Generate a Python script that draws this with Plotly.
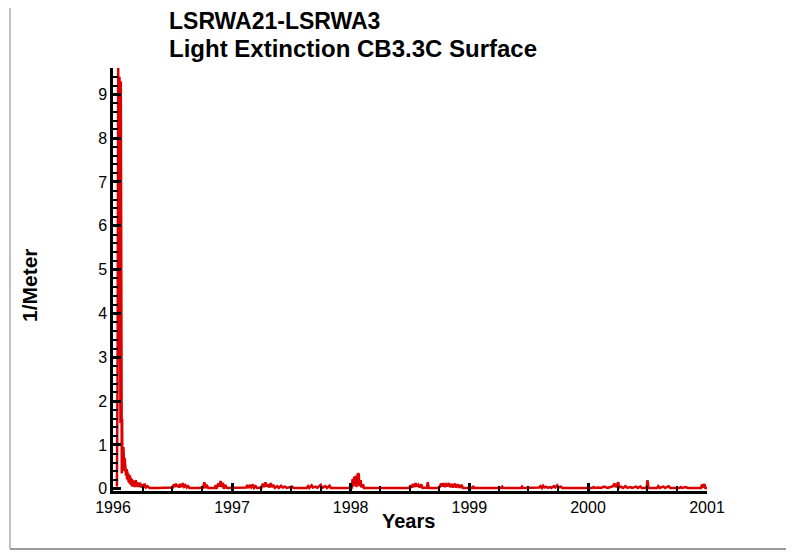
import plotly.graph_objects as go

# light extinction record, 1/Meter
dates_decay = [
    "1996-01-13", "1996-01-15", "1996-01-17", "1996-01-18", "1996-01-19", "1996-01-20",
    "1996-01-21", "1996-01-22", "1996-01-23", "1996-01-24", "1996-01-25", "1996-01-26",
    "1996-01-27", "1996-01-28", "1996-01-29", "1996-01-30", "1996-01-31", "1996-02-01",
    "1996-02-02", "1996-02-03", "1996-02-04", "1996-02-05", "1996-02-06", "1996-02-08",
    "1996-02-09", "1996-02-10", "1996-02-12", "1996-02-13", "1996-02-14", "1996-02-16",
    "1996-02-17", "1996-02-18", "1996-02-20", "1996-02-21", "1996-02-22", "1996-02-24",
    "1996-02-25", "1996-02-26", "1996-02-28", "1996-02-29", "1996-03-01", "1996-03-03",
    "1996-03-04", "1996-03-05", "1996-03-07", "1996-03-08", "1996-03-09", "1996-03-11",
    "1996-03-13", "1996-03-15", "1996-03-17", "1996-03-19", "1996-03-21", "1996-03-24",
    "1996-03-27", "1996-03-30", "1996-04-03", "1996-04-07", "1996-04-11", "1996-04-16",
    "1996-04-22",
]
vals_decay = [
    0.05, 2.5, 9.6, 4.0, 9.55, 3.0,
    9.4, 2.0, 9.35, 1.5, 9.3, 1.2,
    9.0, 0.35, 1.6, 0.5, 1.1, 0.6,
    0.95, 0.45, 0.8, 0.4, 0.7, 0.35,
    0.55, 0.3, 0.45, 0.22, 0.4, 0.2,
    0.35, 0.15, 0.32, 0.12, 0.3, 0.1,
    0.25, 0.08, 0.22, 0.05, 0.2, 0.06,
    0.18, 0.05, 0.16, 0.04, 0.12, 0.2,
    0.05, 0.15, 0.04, 0.12, 0.05, 0.14,
    0.03, 0.1, 0.03, 0.12, 0.03, 0.06,
    0.02,
]

dates_1996 = [
    "1996-05-15", "1996-06-20", "1996-07-03", "1996-07-06", "1996-07-09", "1996-07-12",
    "1996-07-15", "1996-07-19", "1996-07-22", "1996-07-26", "1996-07-30", "1996-08-03",
    "1996-08-07", "1996-08-11", "1996-08-15", "1996-08-19", "1996-08-23", "1996-09-20",
    "1996-10-04", "1996-10-08", "1996-10-11", "1996-10-16", "1996-10-20", "1996-11-08",
    "1996-11-12", "1996-11-14", "1996-11-16", "1996-11-20", "1996-11-23", "1996-11-27",
    "1996-11-30", "1996-12-04", "1996-12-07", "1996-12-11", "1996-12-16", "1996-12-31",
]
vals_1996 = [
    0.02, 0.02, 0.03, 0.1, 0.04, 0.12,
    0.05, 0.09, 0.03, 0.11, 0.04, 0.13,
    0.05, 0.08, 0.03, 0.06, 0.02, 0.02,
    0.03, 0.15, 0.02, 0.07, 0.02, 0.02,
    0.08, 0.0, 0.03, 0.12, 0.05, 0.18,
    0.04, 0.14, 0.0, 0.09, 0.02, 0.02,
]

dates_1997 = [
    "1997-01-20", "1997-02-14", "1997-02-17", "1997-02-20", "1997-02-25", "1997-03-01",
    "1997-03-06", "1997-03-10", "1997-03-15", "1997-03-19", "1997-04-02", "1997-04-06",
    "1997-04-10", "1997-04-14", "1997-04-18", "1997-04-22", "1997-04-26", "1997-04-30",
    "1997-05-04", "1997-05-08", "1997-05-13", "1997-05-20", "1997-05-25", "1997-06-01",
    "1997-06-06", "1997-06-12", "1997-06-19", "1997-07-05", "1997-07-09", "1997-08-19",
    "1997-08-23", "1997-08-27", "1997-09-03", "1997-09-07", "1997-09-15", "1997-09-20",
    "1997-10-01", "1997-10-05", "1997-10-15", "1997-10-20", "1997-10-28", "1997-11-01",
    "1997-12-31",
]
vals_1997 = [
    0.02, 0.03, 0.09, 0.02, 0.07, 0.03,
    0.1, 0.02, 0.06, 0.02, 0.03, 0.12,
    0.04, 0.15, 0.05, 0.1, 0.03, 0.13,
    0.04, 0.09, 0.02, 0.06, 0.02, 0.07,
    0.03, 0.05, 0.02, 0.05, 0.02, 0.02,
    0.06, 0.02, 0.08, 0.03, 0.05, 0.02,
    0.09, 0.02, 0.06, 0.02, 0.07, 0.02,
    0.02,
]

dates_1998 = [
    "1998-01-04", "1998-01-07", "1998-01-09", "1998-01-12", "1998-01-14", "1998-01-17",
    "1998-01-19", "1998-01-23", "1998-01-26", "1998-01-28", "1998-02-01", "1998-02-03",
    "1998-02-08", "1998-02-11", "1998-03-01", "1998-03-10", "1998-07-01", "1998-07-04",
    "1998-07-08", "1998-07-12", "1998-07-16", "1998-07-20", "1998-07-24", "1998-07-28",
    "1998-08-01", "1998-08-06", "1998-08-10", "1998-08-24", "1998-08-26", "1998-08-29",
    "1998-09-28", "1998-10-02", "1998-10-06", "1998-10-10", "1998-10-14", "1998-10-18",
    "1998-10-22", "1998-10-26", "1998-10-30", "1998-11-03", "1998-11-08", "1998-11-12",
    "1998-11-18", "1998-11-22", "1998-11-28", "1998-12-02", "1998-12-08", "1998-12-12",
    "1998-12-31",
]
vals_1998 = [
    0.02, 0.22, 0.05, 0.28, 0.08, 0.3,
    0.04, 0.35, 0.33, 0.06, 0.2, 0.03,
    0.1, 0.02, 0.03, 0.02, 0.02, 0.08,
    0.03, 0.11, 0.04, 0.13, 0.05, 0.09,
    0.03, 0.1, 0.02, 0.03, 0.15, 0.02,
    0.02, 0.04, 0.12, 0.05, 0.13, 0.04,
    0.1, 0.06, 0.13, 0.04, 0.11, 0.03,
    0.12, 0.03, 0.1, 0.02, 0.09, 0.02,
    0.02,
]

dates_1999 = [
    "1999-01-10", "1999-01-13", "1999-01-16", "1999-04-09", "1999-04-12", "1999-04-15",
    "1999-06-09", "1999-06-12", "1999-06-15", "1999-08-04", "1999-08-08", "1999-08-12",
    "1999-08-16", "1999-08-20", "1999-08-25", "1999-08-30", "1999-09-06", "1999-09-10",
    "1999-09-18", "1999-09-22", "1999-09-28", "1999-10-03", "1999-10-10", "1999-10-14",
    "1999-12-31",
]
vals_1999 = [
    0.02, 0.06, 0.02, 0.02, 0.05, 0.02,
    0.02, 0.05, 0.02, 0.03, 0.06, 0.02,
    0.07, 0.03, 0.05, 0.02, 0.04, 0.02,
    0.06, 0.03, 0.08, 0.03, 0.05, 0.02,
    0.02,
]

dates_2000 = [
    "2000-01-14", "2000-01-18", "2000-01-22", "2000-02-01", "2000-02-10", "2000-02-20",
    "2000-03-01", "2000-03-10", "2000-03-18", "2000-03-22", "2000-03-26", "2000-03-30",
    "2000-04-03", "2000-04-06", "2000-04-12", "2000-04-18", "2000-04-25", "2000-05-01",
    "2000-05-10", "2000-05-16", "2000-05-28", "2000-06-02", "2000-06-10", "2000-06-14",
    "2000-06-29", "2000-07-02", "2000-07-05", "2000-07-31", "2000-08-04", "2000-08-08",
    "2000-08-20", "2000-08-25", "2000-09-05", "2000-09-10", "2000-10-08", "2000-10-12",
    "2000-10-16", "2000-10-28", "2000-11-02", "2000-12-14", "2000-12-17", "2000-12-20",
    "2000-12-24", "2000-12-27", "2001-01-01",
]
vals_2000 = [
    0.02, 0.04, 0.02, 0.03, 0.02, 0.05,
    0.02, 0.04, 0.06, 0.12, 0.04, 0.09,
    0.15, 0.03, 0.05, 0.02, 0.06, 0.02,
    0.04, 0.02, 0.05, 0.02, 0.05, 0.02,
    0.02, 0.2, 0.02, 0.02, 0.06, 0.02,
    0.05, 0.02, 0.06, 0.02, 0.02, 0.04,
    0.02, 0.04, 0.02, 0.02, 0.1, 0.03,
    0.11, 0.02, 0.02,
]

dates = dates_decay + dates_1996 + dates_1997 + dates_1998 + dates_1999 + dates_2000
values = vals_decay + vals_1996 + vals_1997 + vals_1998 + vals_1999 + vals_2000

FONT = "Arial, 'Liberation Sans', sans-serif"

fig = go.Figure(
    go.Scatter(x=dates, y=values, mode="lines",
               line=dict(color="#dc0000", width=2.5), hoverinfo="skip")
)

axis_common = dict(
    showline=True, linecolor="black", showgrid=False, zeroline=False,
    ticks="inside", tickcolor="black", ticklen=8, tickwidth=2.5,
    tickfont=dict(family=FONT, size=16, color="black"),
)
fig.update_xaxes(
    type="date", range=["1996-01-01", "2001-01-01"], linewidth=3,
    dtick="M12", tick0="1996-01-01", tickformat="%Y",
    minor=dict(ticks="inside", dtick="M3", ticklen=5, tickwidth=1.5, tickcolor="black"),
    **axis_common,
)
fig.update_yaxes(
    range=[-0.05, 9.6], linewidth=2.5, dtick=1, tick0=0,
    minor=dict(ticks="inside", dtick=0.2, ticklen=5, tickwidth=1.5, tickcolor="black"),
    **axis_common,
)

title_font = dict(family=FONT, size=23, color="black", weight="bold")
subtitle_font = dict(family=FONT, size=24, color="black", weight="bold")
label_font = dict(family=FONT, size=20, color="black", weight="bold")
annotations = [
    dict(text="LSRWA21-LSRWA3", x=0.0909, y=1.111, font=title_font,
         xanchor="left", yanchor="middle"),
    dict(text="Light Extinction CB3.3C Surface", x=0.0909, y=1.045, font=subtitle_font,
         xanchor="left", yanchor="middle"),
    dict(text="Years", x=0.4983, y=-0.071, font=label_font,
         xanchor="center", yanchor="middle"),
    dict(text="1/Meter", x=-0.1397, y=0.487, font=dict(label_font, size=21), textangle=-90,
         xanchor="center", yanchor="middle"),
]
for a in annotations:
    fig.add_annotation(xref="paper", yref="paper", showarrow=False, **a)

# page frame (the page body adds 8px around the figure)
frame = [
    dict(x0=-0.1734, x1=1.2, y0=1.1505, y1=1.1505, line=dict(color="#8a8a8a", width=2)),
    dict(x0=-0.1734, x1=-0.1734, y0=1.1505, y1=-0.1371, line=dict(color="#c0c0c0", width=2)),
    dict(x0=-0.1734, x1=1.2, y0=-0.1371, y1=-0.1371, line=dict(color="#9a9a9a", width=2)),
]
for s in frame:
    fig.add_shape(type="line", xref="paper", yref="paper", **s)

fig.update_layout(
    width=786, height=547,
    margin=dict(l=105, r=87, t=60, b=64),
    paper_bgcolor="white", plot_bgcolor="white",
    showlegend=False,
)

fig.write_html("out.html")
